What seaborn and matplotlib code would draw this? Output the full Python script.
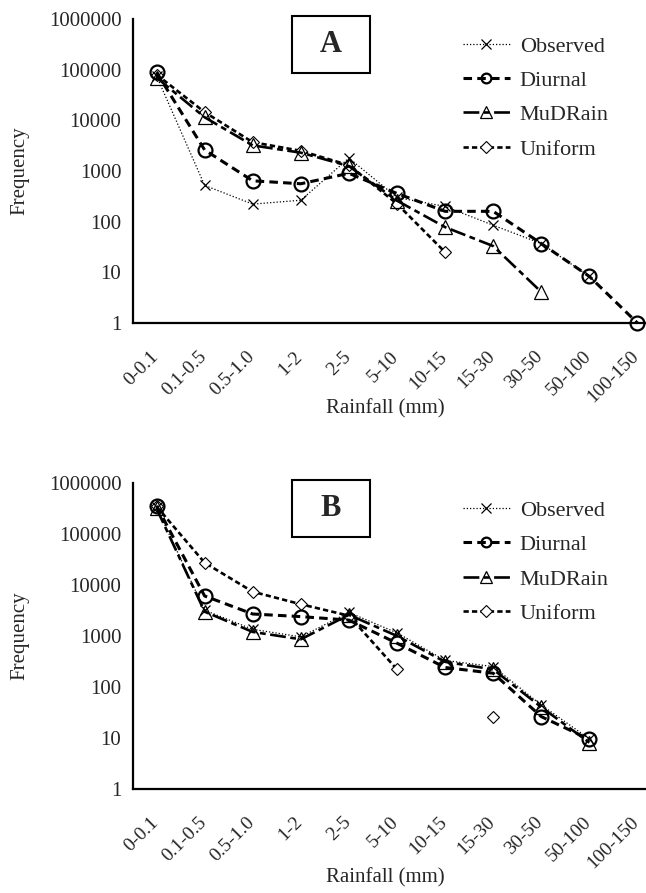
import numpy as np
import pandas as pd
import matplotlib
matplotlib.use("Agg")
import matplotlib.pyplot as plt
from matplotlib.patches import Rectangle
from matplotlib.lines import Line2D
from matplotlib.transforms import ScaledTranslation
from matplotlib.ticker import LogLocator, NullFormatter, FixedLocator
import seaborn as sns

# ---------------- data ----------------
categories = ["0-0.1", "0.1-0.5", "0.5-1.0", "1-2", "2-5", "5-10",
              "10-15", "15-30", "30-50", "50-100", "100-150"]
nan = np.nan
observed_A = [75000, 520, 222, 265, 1800, 300, 200, 85, 37, 8.3, nan]
diurnal_A = [88000, 2600, 640, 560, 900, 360, 160, 160, 37, 8.3, 1]
mudrain_A = [70000, 11500, 3200, 2300, 1250, 260, 78, 33, 4.1, nan, nan]
uniform_A = [80000, 14500, 3700, 2500, 1300, 225, 25, nan, nan, nan, nan]

observed_B = [340000, 3200, 1350, 960, 2900, 1150, 330, 250, 44, 9.5, nan]
diurnal_B = [360000, 6100, 2700, 2400, 2050, 720, 240, 185, 26, 9.3, nan]
mudrain_B = [320000, 3000, 1200, 860, 2600, 1000, 310, 220, 40, 8, nan]
uniform_B = [350000, 27500, 7400, 4200, 2500, 220, nan, 25, nan, nan, nan]

series_names = ["Observed", "Diurnal", "MuDRain", "Uniform"]
yticks = [1, 10, 100, 1000, 10000, 100000, 1000000]
ytick_labels = ["1", "10", "100", "1000", "10000", "100000", "1000000"]
panel_labels = ["A", "B"]

# ---------------- styles ----------------
sns.set_style("white")
plt.rcParams["font.family"] = ["Liberation Serif", "DejaVu Serif"]

styles = {
    "Observed": dict(linestyle=(0, (1.0, 1.6)), linewidth=0.9, marker="x",
                     markersize=7, markeredgewidth=0.9, markerfacecolor="none", zorder=6),
    "Diurnal": dict(linestyle=(0, (2.8, 1.7)), linewidth=2.2, marker="o",
                    markersize=10, markeredgewidth=1.6, markerfacecolor="none", zorder=5),
    "MuDRain": dict(linestyle=(0, (6.0, 1.7, 2.2, 1.7)), linewidth=1.9, marker="^",
                    markersize=9.5, markeredgewidth=0.9, markerfacecolor="none", zorder=4),
    "Uniform": dict(linestyle=(0, (2.0, 1.2)), linewidth=1.9, marker="D",
                    markersize=6, markeredgewidth=0.8, markerfacecolor="white", zorder=3),
}
legend_ms = {"Observed": 6.5, "Diurnal": 7, "MuDRain": 9, "Uniform": 6}

W, H = 646, 893
fig = plt.figure(figsize=(W / 100, H / 100), dpi=100)


def fx(x):
    return x / W


def fy(y):
    return 1 - y / H


ax_left, ax_right = 132.5, 661.5
panels = [
    dict(top=19.0, bottom=323.0, data=[observed_A, diurnal_A, mudrain_A, uniform_A], xlabel_y=409),
    dict(top=483.3, bottom=788.6, data=[observed_B, diurnal_B, mudrain_B, uniform_B], xlabel_y=878),
]

xs = np.arange(len(categories))
shift = ScaledTranslation(-7 / 100, 0, fig.dpi_scale_trans)

for p, lab in zip(panels, panel_labels):
    ax = fig.add_axes([fx(ax_left), fy(p["bottom"]), (ax_right - ax_left) / W,
                       (p["bottom"] - p["top"]) / H])
    ax.set_yscale("log")
    for name, vals in zip(series_names, p["data"]):
        df = pd.DataFrame({"x": xs, "y": vals})
        valid = df["y"].notna()
        run_id = (~valid).cumsum()
        for _, run in df[valid].groupby(run_id[valid]):
            st = dict(styles[name])
            if len(run) == 1:
                st["linestyle"] = "none"
            sns.lineplot(data=run, x="x", y="y", ax=ax, color="black",
                         markeredgecolor="black", errorbar=None, sort=False,
                         clip_on=False, **st)
    ax.set_xlim(-0.5, len(categories) - 0.5)
    ax.set_ylim(1, 1e6)
    ax.set_xlabel("")
    ax.set_ylabel("Frequency", fontsize=15, labelpad=14)
    # x ticks: boundaries (major) + labelled centres (minor)
    ax.xaxis.set_major_locator(FixedLocator(np.arange(-0.5, len(categories), 1)))
    ax.set_xticklabels([])
    ax.set_xticks(xs, minor=True)
    ax.tick_params(axis="x", which="major", direction="out", length=6, width=1.4, color="black")
    ax.tick_params(axis="x", which="minor", length=0, pad=18)
    ax.set_xticklabels(categories, minor=True, rotation=45, ha="right",
                       rotation_mode="anchor", fontsize=14)
    # y ticks
    ax.yaxis.set_major_locator(FixedLocator(yticks))
    ax.set_yticklabels(ytick_labels, fontsize=15)
    ax.yaxis.set_minor_locator(LogLocator(base=10, subs=np.arange(2, 10)))
    ax.yaxis.set_minor_formatter(NullFormatter())
    ax.tick_params(axis="y", which="major", direction="out", length=5, width=1.4,
                   color="black", pad=3)
    ax.tick_params(axis="y", which="minor", direction="in", length=4, width=0.9,
                   color="black")
    # nudge category labels slightly left (after all tick_params calls)
    for tick in ax.xaxis.get_minor_ticks():
        tick.label1.set_transform(tick.label1.get_transform() + shift)
    sns.despine(ax=ax)
    for s in ["left", "bottom"]:
        ax.spines[s].set_linewidth(1.6)
        ax.spines[s].set_color("black")
    ax.patch.set_alpha(0)

    fig.text(fx(385), fy(p["xlabel_y"]), "Rainfall (mm)", fontsize=15,
             ha="center", va="center")

    # boxed panel letter
    t = p["top"]
    fig.add_artist(Rectangle((fx(292), fy(t + 54)), 78 / W, 57 / H,
                             transform=fig.transFigure, fill=False,
                             edgecolor="black", linewidth=1.5))
    fig.text(fx(331), fy(t + 25), lab, fontsize=22, fontweight="bold",
             ha="center", va="center")

    # legend
    handles = []
    for name in series_names:
        st = {k: v for k, v in styles[name].items() if k != "zorder"}
        st["markersize"] = legend_ms[name]
        handles.append(Line2D([], [], color="black", markeredgecolor="black", **st))
    ax.legend(handles, series_names, loc="upper left",
              bbox_to_anchor=(fx(463), fy(t + 17)), bbox_transform=fig.transFigure,
              frameon=False, fontsize=16, handlelength=2.1, handletextpad=0.45,
              labelspacing=0.62, borderpad=0, borderaxespad=0)

fig.savefig("out.png", dpi=100)
